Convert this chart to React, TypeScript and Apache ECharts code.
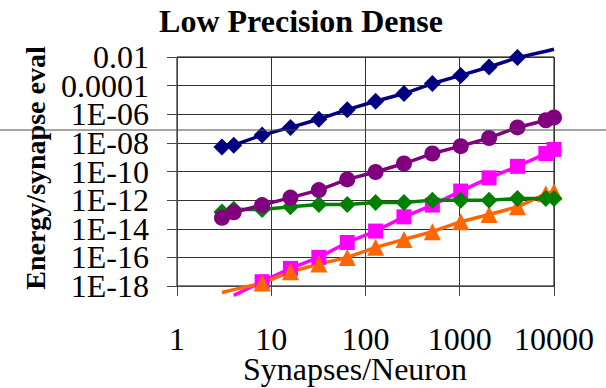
import React, { useEffect, useRef } from "react";
import * as echarts from "echarts";

const xValues = [3, 4, 8, 16, 32, 64, 128, 256, 512, 1024, 2048, 4096, 8192, 10000];
const xValuesFrom4 = [4, 8, 16, 32, 64, 128, 256, 512, 1024, 2048, 4096, 8192, 10000];

const navyValues = [5.2e-9, 6.9e-9, 3.5e-8, 1.2e-7, 4.5e-7, 2.1e-6, 8.1e-6, 2.8e-5, 1.4e-4, 5.2e-4, 2.0e-3, 9.1e-3, 2.5e-2, 3.5e-2];
const purpleValues = [5.9e-14, 1.4e-13, 4.5e-13, 1.5e-12, 5.0e-12, 2.8e-11, 9.3e-11, 3.6e-10, 1.8e-9, 5.9e-9, 2.2e-8, 1.2e-7, 3.8e-7, 5.9e-7];
const greenValues = [1.5e-13, 2.3e-13, 2.2e-13, 3.4e-13, 5.0e-13, 5.0e-13, 6.9e-13, 6.9e-13, 1.0e-12, 1.0e-12, 1.0e-12, 1.3e-12, 1.3e-12, 1.3e-12];
const magentaValues = [2.2e-19, 2.0e-18, 1.7e-17, 1.0e-16, 1.1e-15, 6.9e-15, 6.8e-14, 4.5e-13, 4.3e-12, 3.6e-11, 2.3e-10, 1.8e-9, 3.5e-9];
const orangeValues = [3.5e-19, 5.6e-19, 1.6e-18, 1.0e-17, 3.4e-17, 1.0e-16, 5.0e-16, 1.8e-15, 6.2e-15, 3.1e-14, 1.0e-13, 3.4e-13, 2.8e-12, 3.8e-12];

const xTickValues = [1, 10, 100, 1000, 10000];
const xTickLabels = ["1", "10", "100", "1000", "10000"];
const yTickValues = [1e-18, 1e-16, 1e-14, 1e-12, 1e-10, 1e-8, 1e-6, 1e-4, 1e-2];
const yTickLabels = ["1E-18", "1E-16", "1E-14", "1E-12", "1E-10", "1E-08", "1E-06", "0.0001", "0.01"];

const Y_MIN = 1e-18;
const Y_MAX = 1e-2;
const FONT = "'Liberation Serif', 'Times New Roman', serif";

export default function App() {
  const ref = useRef<HTMLDivElement>(null);

  useEffect(() => {
    if (!ref.current) return;
    const chart = echarts.init(ref.current, undefined, { renderer: "svg" });

    const inRange = (v: number) => v >= Y_MIN * 0.999 && v <= Y_MAX * 1.001;
    const mk = (xs: number[], ys: number[]) => xs.map((x, i) => [x, ys[i]]);
    const series = (
      name: string,
      xs: number[],
      ys: number[],
      color: string,
      symbol: string,
      size: number
    ) => ({
      name,
      type: "line",
      data: mk(xs, ys),
      symbol,
      symbolSize: (val: number[]) => (inRange(val[1]) ? size : 0),
      clip: false,
      lineStyle: { color, width: 3.5 },
      itemStyle: { color },
      emphasis: { disabled: true },
    });

    const baseGraphic: any[] = [
      {
        type: "text",
        x: 301,
        y: 21,
        style: {
          text: "Low Precision Dense",
          font: `bold 32px ${FONT}`,
          fill: "#000000",
          textAlign: "center",
          textVerticalAlign: "middle",
        },
      },
      {
        type: "text",
        x: 35,
        y: 168,
        rotation: Math.PI / 2,
        style: {
          text: "Energy/synapse eval",
          font: `bold 28px ${FONT}`,
          fill: "#000000",
          textAlign: "center",
          textVerticalAlign: "middle",
        },
      },
      {
        type: "text",
        x: 355,
        y: 369,
        style: {
          text: "Synapses/Neuron",
          font: `32px ${FONT}`,
          fill: "#000000",
          textAlign: "center",
          textVerticalAlign: "middle",
        },
      },
      {
        type: "line",
        z: 100,
        shape: { x1: 0, y1: 130, x2: 606, y2: 130 },
        style: { stroke: "#4a4a4a", lineWidth: 1 },
      },
    ];

    chart.setOption({
      animation: false,
      backgroundColor: "#ffffff",
      grid: {
        left: 177,
        top: 57,
        width: 377,
        height: 229,
        show: true,
        borderColor: "#000000",
        borderWidth: 1,
        backgroundColor: "transparent",
      },
      xAxis: {
        type: "log",
        logBase: 10,
        min: 1,
        max: 10000,
        axisLine: { show: true, lineStyle: { color: "#444444", width: 1 } },
        axisTick: { show: true, length: 10, inside: false, lineStyle: { color: "#444444" } },
        splitLine: { show: true, lineStyle: { color: "#333333", width: 1 } },
        minorTick: { show: false },
        axisLabel: {
          margin: 40,
          fontFamily: FONT,
          fontSize: 32,
          lineHeight: 26,
          color: "#000000",
          showMinLabel: true,
          showMaxLabel: true,
          hideOverlap: false,
          formatter: (v: number) => {
            const i = xTickValues.findIndex((t) => Math.abs(Math.log10(t) - Math.log10(v)) < 1e-6);
            return i >= 0 ? xTickLabels[i] : "";
          },
        },
      },
      yAxis: {
        type: "log",
        logBase: 100,
        min: Y_MIN,
        max: Y_MAX,
        splitNumber: 8,
        axisLine: { show: true, lineStyle: { color: "#444444", width: 1 } },
        axisTick: { show: true, length: 10, inside: false, lineStyle: { color: "#444444" } },
        splitLine: { show: true, lineStyle: { color: "#333333", width: 1 } },
        minorTick: { show: false },
        axisLabel: { show: false },
      },
      series: [
        series("navy", xValues, navyValues, "#000080", "diamond", 17),
        series("magenta", xValuesFrom4, magentaValues, "#FF00FF", "rect", 15),
        series("orange", xValues, orangeValues, "#FF6600", "triangle", 17),
        series("green", xValues, greenValues, "#008000", "diamond", 17),
        series("purple", xValues, purpleValues, "#800080", "circle", 16),
      ],
      graphic: baseGraphic,
    });

    const yLabelGraphics = yTickValues.map((v, i) => {
      const py = chart.convertToPixel({ yAxisIndex: 0 }, v) as number;
      return {
        type: "text",
        x: 149,
        y: py,
        style: {
          text: yTickLabels[i],
          font: `32px ${FONT}`,
          fill: "#000000",
          textAlign: "right",
          textVerticalAlign: "middle",
        },
      };
    });

    chart.setOption({ graphic: [...baseGraphic, ...yLabelGraphics] });

    return () => chart.dispose();
  }, []);

  return (
    <div
      ref={ref}
      style={{ position: "fixed", left: 0, top: 0, width: 606, height: 388, background: "#fff" }}
    />
  );
}
